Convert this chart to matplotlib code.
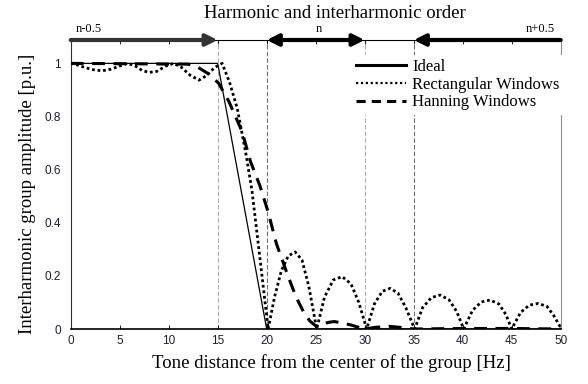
import numpy as np
import matplotlib; matplotlib.use('Agg')
import matplotlib.pyplot as plt
from matplotlib.lines import Line2D

# ── data ──
f_ideal = [0, 15, 20, 50]
a_ideal = [1.0, 1.0, 0.0, 0.0]

f_rect = [0, 0.5, 1.5, 2.3, 3.2, 4.1, 5.0, 5.8, 6.6, 7.3, 8.0, 8.8, 9.7, 10.5,
          11.3, 12.2, 13.1, 13.9, 14.7, 15.45, 16.2, 17.0, 17.9, 18.5, 19.3, 20.15,
          20.8, 21.5, 22.2, 22.9, 23.6, 24.3, 25.1,
          25.9, 26.8, 27.7, 28.6, 29.4, 30.2,
          31.0, 31.8, 32.6, 33.4, 34.2, 35.1,
          35.9, 36.8, 37.7, 38.6, 39.4, 40.1,
          41.0, 41.9, 42.8, 43.7, 44.4, 45.0,
          45.9, 46.8, 47.7, 48.6, 49.3, 50.0]
a_rect = [1.0, 0.996, 0.984, 0.976, 0.972, 0.978, 0.99, 1.0, 0.99, 0.973, 0.966, 0.97, 0.99, 1.0,
          0.985, 0.955, 0.937, 0.955, 0.985, 1.0, 0.93, 0.83, 0.655, 0.52, 0.27, 0.0,
          0.12, 0.22, 0.275, 0.29, 0.26, 0.16, 0.0,
          0.12, 0.185, 0.197, 0.17, 0.10, 0.0,
          0.095, 0.142, 0.153, 0.135, 0.08, 0.0,
          0.08, 0.118, 0.128, 0.11, 0.065, 0.0,
          0.07, 0.102, 0.109, 0.094, 0.055, 0.0,
          0.062, 0.09, 0.096, 0.085, 0.05, 0.005]

f_hann = [0, 12, 13, 14, 15.1, 16.15, 17.5, 18.35, 19.3, 20.15, 21.0, 22.2, 23.0,
          23.75, 24.4, 25.0, 25.5, 26.3, 26.9, 27.8, 28.7, 29.5, 30.1, 31.0, 32.5,
          34.0, 35.0, 40.0, 45.0, 50.0]
a_hann = [1.0, 0.997, 0.985, 0.962, 0.925, 0.856, 0.742, 0.63, 0.54, 0.44, 0.32, 0.197, 0.12,
          0.065, 0.03, 0.012, 0.015, 0.025, 0.028, 0.022, 0.014, 0.005, 0.0, 0.006, 0.01,
          0.005, 0.0, 0.002, 0.002, 0.0]

xticks = [0, 5, 10, 15, 20, 25, 30, 35, 40, 45, 50]
yticks = [0, 0.2, 0.4, 0.6, 0.8, 1]
ytick_labels = ['0', '0.2', '0.4', '0.6', '0.8', '1']
group_edges = [15, 20, 30, 35]
legend_labels = ['Ideal', 'Rectangular Windows', 'Hanning Windows']

SERIF = 'Liberation Serif'
SANS = 'Liberation Sans'
TOP = 1.088
W, H = 588, 384

fig = plt.figure(figsize=(W / 100, H / 100), dpi=100)
ax = fig.add_axes([70.7 / W, 1 - 329 / H, 490 / W, 289 / H])
ax.set_xlim(0, 50)
ax.set_ylim(0, TOP)

# group boundaries
for i, xv in enumerate(group_edges):
    ax.axvline(xv, color='#b0b0b0' if i % 2 == 0 else '#707070', lw=0.8,
               ls=(0, (4, 2)), zorder=1)

ax.plot(f_ideal, a_ideal, color='black', lw=0.9, zorder=3)
ln_r, = ax.plot(f_rect, a_rect, color='black', lw=2.0, zorder=4)
ln_r.set_dashes((1.0, 1.0))
ln_h, = ax.plot(f_hann, a_hann, color='black', lw=2.2, zorder=4)
ln_h.set_dashes((4.2, 2.8))

# top arrows (harmonic order)
arr = dict(lw=3.0, color='black', shrinkA=0, shrinkB=0, mutation_scale=17)
ax.annotate('', xy=(15, TOP), xytext=(0, TOP), annotation_clip=False,
            arrowprops=dict(arrowstyle='-|>', **{**arr, 'color': '#333333'}))
ax.annotate('', xy=(30, TOP), xytext=(20, TOP), annotation_clip=False,
            arrowprops=dict(arrowstyle='<|-|>', **arr))
ax.annotate('', xy=(35, TOP), xytext=(50, TOP), annotation_clip=False,
            arrowprops=dict(arrowstyle='-|>', **arr))
ax.text(1.8, TOP + 0.018, 'n-0.5', fontsize=9, family=SERIF, ha='center', va='bottom')
ax.text(25.3, TOP + 0.018, 'n', fontsize=9, family=SERIF, ha='center', va='bottom')
ax.text(47.9, TOP + 0.018, 'n+0.5', fontsize=9, family=SERIF, ha='center', va='bottom')

fig.text(335 / W, 1 - 18 / H, 'Harmonic and interharmonic order', family=SERIF,
         fontsize=13.5, ha='center', va='baseline')

# axes styling
ax.spines['top'].set_linewidth(0.8)
ax.spines['right'].set_color('#909090')
ax.spines['left'].set_color('#303030')
ax.spines['bottom'].set_linewidth(1.2)
ax.set_xticks(xticks)
ax.set_yticks(yticks)
ax.set_yticklabels(ytick_labels)
ax.tick_params(axis='x', direction='in', length=3, width=0.6, top=True, pad=4,
               labelsize=8.5, labelcolor='#1c1c3a')
ax.tick_params(axis='y', length=0, pad=7, labelsize=8.5, labelcolor='#1c1c3a')
for lab in ax.get_xticklabels() + ax.get_yticklabels():
    lab.set_family(SANS)

ax.set_xlabel('Tone distance from the center of the group [Hz]', family=SERIF, fontsize=13.5)
ax.xaxis.set_label_coords((331 - 70.7) / 490, -(354 - 329) / 289)
ax.set_ylabel('Interharmonic group amplitude [p.u.]', family=SERIF, fontsize=13.5)
ax.yaxis.set_label_coords((36 - 70.7) / 490, 1 - (193.5 - 40) / 289)

h_ideal = Line2D([], [], color='black', lw=2.2)
h_rect = Line2D([], [], color='black', lw=1.6, dashes=(1.0, 1.2))
h_hann = Line2D([], [], color='black', lw=2.2, dashes=(3.0, 2.0))
leg = ax.legend([h_ideal, h_rect, h_hann], legend_labels, loc='upper left',
                bbox_to_anchor=(352 / W, 1 - 55 / H), bbox_transform=fig.transFigure,
                prop={'family': SERIF, 'size': 12}, frameon=True, fancybox=False,
                borderpad=0.25, handlelength=3.0, handletextpad=0.35, labelspacing=0.1,
                borderaxespad=0)
leg.get_frame().set_edgecolor('none')
leg.get_frame().set_facecolor('white')
leg.get_frame().set_alpha(1)

fig.savefig('out.png', dpi=100)
